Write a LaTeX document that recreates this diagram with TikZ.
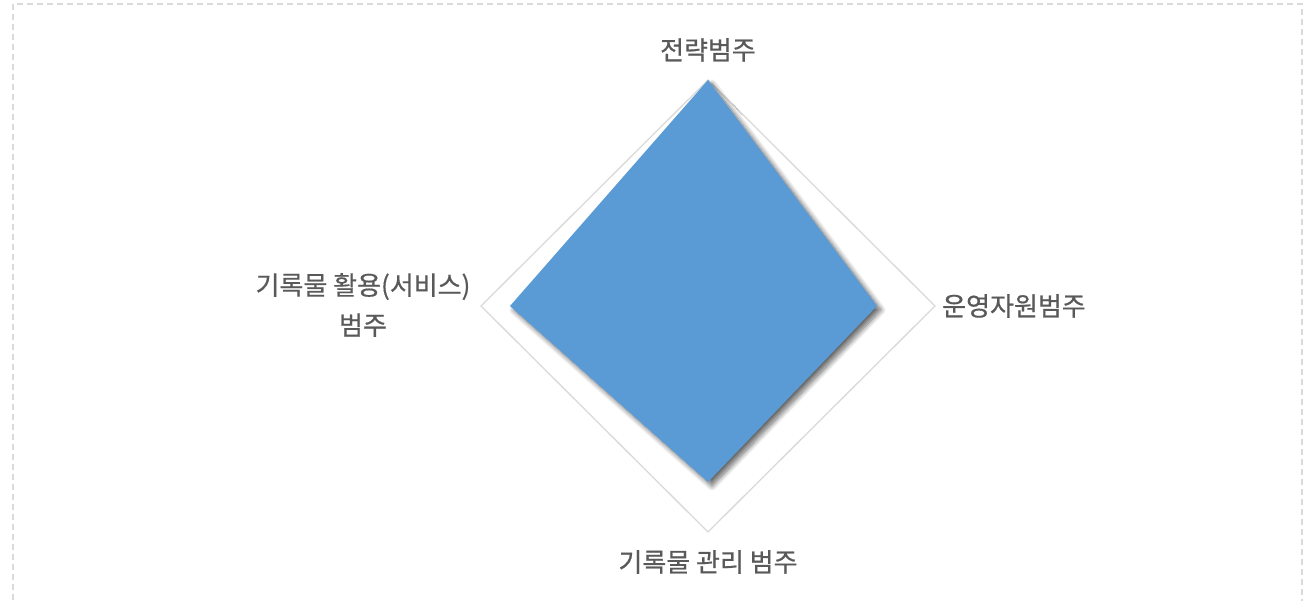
\documentclass[tikz,border=0pt]{standalone}
\usepackage{fontspec}
\setmainfont{Noto Sans CJK KR}[FakeBold=0.6, AutoFakeBold=0.6]
\usetikzlibrary{shadows.blur}
\definecolor{lbl}{HTML}{595959}
\definecolor{gridc}{HTML}{D9D9D9}
\definecolor{series}{HTML}{5B9BD5}
\definecolor{frame}{HTML}{DADADA}
\tikzset{
  lab/.style={text=lbl, font=\fontsize{26}{40}\selectfont\bfseries, inner sep=0pt, align=center},
  gridline/.style={draw=gridc, line width=1.3pt, line join=miter},
  area/.style={fill=series, draw=none, blur shadow={shadow xshift=4pt, shadow yshift=-4pt, shadow blur radius=5pt, shadow blur steps=10, shadow opacity=60}},
  border/.style={draw=frame, line width=1.6pt, dash pattern=on 6pt off 4pt}
}
\begin{document}
\begin{tikzpicture}[x=1pt,y=-1pt]
\useasboundingbox (0,0) rectangle (1304,601);
\draw[border] (13,620) -- (13,4) -- (1302,4) -- (1302,620);
\coordinate (c) at (708,306);
% outer grid diamond
\coordinate (gt) at (708,80);
\coordinate (gr) at (935,306);
\coordinate (gb) at (708,532);
\coordinate (gl) at (481,306);
\draw[gridline] (gt) -- (gr) -- (gb) -- (gl) -- cycle;
% data area
\coordinate (dt) at (708,80);
\coordinate (dr) at (877,306);
\coordinate (db) at (708,482);
\coordinate (dl) at (510,306);
\path[area] (dt) -- (dr) -- (db) -- (dl) -- cycle;
% labels
\node[lab] (top) at (708,50) {전략범주};
\node[lab, anchor=west] (right) at (942,306) {운영자원범주};
\node[lab] (left) at (363,305) {기록물 활용(서비스)\\범주};
\node[lab] (bottom) at (708,562) {기록물 관리 범주};
\end{tikzpicture}
\end{document}
